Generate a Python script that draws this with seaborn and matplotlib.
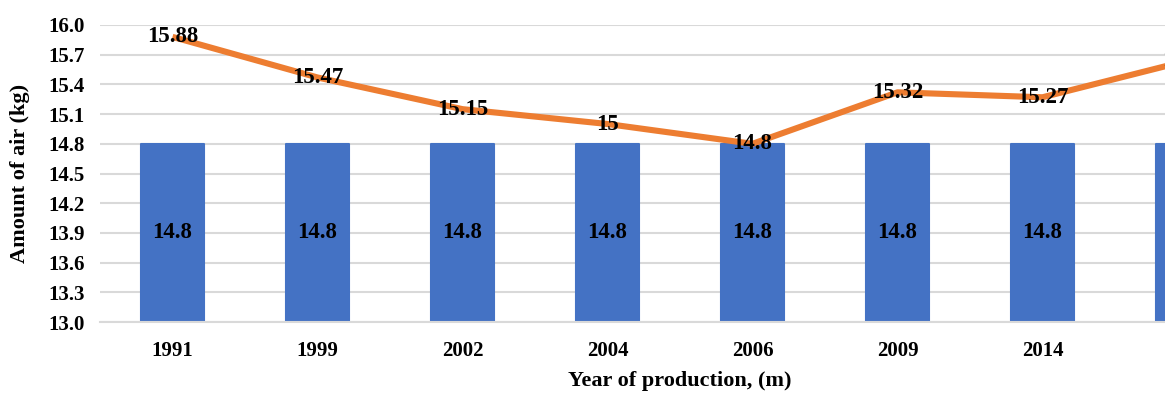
import numpy as np
import pandas as pd
import matplotlib
matplotlib.use("Agg")
import matplotlib.pyplot as plt
import seaborn as sns

# Production years, fixed reference amount (bars) and measured amount (line)
years = ["1991", "1999", "2002", "2004", "2006", "2009", "2014", "2019"]
reference_air = [14.8, 14.8, 14.8, 14.8, 14.8, 14.8, 14.8, 14.8]
measured_air = [15.88, 15.47, 15.15, 15.0, 14.8, 15.32, 15.27, 15.64]
y_ticks = [13.0, 13.3, 13.6, 13.9, 14.2, 14.5, 14.8, 15.1, 15.4, 15.7, 16.0]

sns.set_theme(style="white")
plt.rcParams["font.family"] = ["Liberation Serif", "DejaVu Serif"]
plt.rcParams["font.weight"] = "bold"
plt.rcParams["text.color"] = "black"
plt.rcParams["axes.labelcolor"] = "black"

BLUE = "#4472C4"
ORANGE = "#ED7D31"
GRID = "#D9D9D9"
TICK_FS = 15
LABEL_FS = 16.5
AXIS_FS = 16

df = pd.DataFrame({"year": years, "reference": reference_air, "measured": measured_air})

fig = plt.figure(figsize=(11.65, 3.97), dpi=100)
# the plot area runs past the right edge of the figure
ax = fig.add_axes([100 / 1165, 75 / 397, 1160 / 1165, 297 / 397])

sns.barplot(data=df, x="year", y="reference", color=BLUE, width=0.44,
            saturation=1, ax=ax, zorder=2, edgecolor=BLUE, linewidth=1.5)
for patch in ax.patches:
    patch.set_joinstyle("round")
sns.lineplot(x=np.arange(len(years)), y=df["measured"], color=ORANGE,
             linewidth=4.4, ax=ax, zorder=3, solid_capstyle="butt")

ymin, ymax = y_ticks[0], y_ticks[-1]
ax.set_ylim(ymin, ymax)
ax.set_xlim(-0.5, len(years) - 0.5)
ax.set_yticks(y_ticks)
ax.set_yticklabels([f"{t:.1f}" for t in y_ticks], fontsize=TICK_FS, fontweight="bold")
ax.set_xticks(range(len(years)))
ax.set_xticklabels(years, fontsize=TICK_FS, fontweight="bold")

ax.grid(axis="y", color=GRID, linewidth=1.5, zorder=0)
ax.set_axisbelow(True)
for side in ["left", "right", "top"]:
    ax.spines[side].set_visible(False)
ax.spines["bottom"].set_color(GRID)
ax.spines["bottom"].set_linewidth(1.5)
ax.spines["bottom"].set_zorder(4)

ax.tick_params(axis="y", length=0, pad=11, labelcolor="black")
ax.tick_params(axis="x", which="major", length=0, pad=14, labelcolor="black")
ax.set_xticks(np.arange(0.5, len(years) - 0.5, 1.0), minor=True)
ax.tick_params(axis="x", which="minor", length=5, width=1.2, color=GRID, direction="out")

# value labels: inside bars and on the line points
for i, (b, m) in enumerate(zip(reference_air, measured_air)):
    ax.text(i, (ymin + b) / 2, f"{b:g}", ha="center", va="center",
            fontsize=LABEL_FS, fontweight="bold", color="black", zorder=5)
    ax.text(i, m, f"{m:g}", ha="center", va="center",
            fontsize=LABEL_FS, fontweight="bold", color="black", zorder=5)

ax.set_xlabel("Year of production, (m)", fontsize=AXIS_FS, fontweight="bold",
              labelpad=7, color="black")
ax.set_ylabel("Amount of air (kg)", fontsize=AXIS_FS, fontweight="bold",
              labelpad=13, color="black")

fig.savefig("out.png", dpi=100)
